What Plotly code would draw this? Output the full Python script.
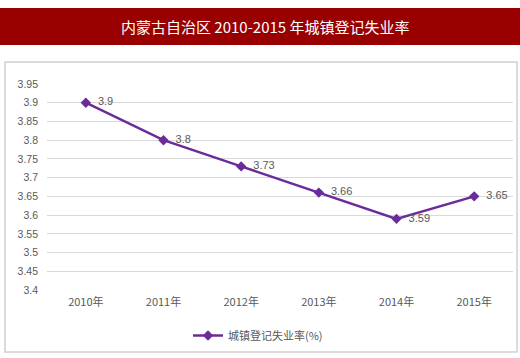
import plotly.graph_objects as go

years = ["2010年", "2011年", "2012年", "2013年", "2014年", "2015年"]
rates = [3.9, 3.8, 3.73, 3.66, 3.59, 3.65]
labels = ["3.9", "3.8", "3.73", "3.66", "3.59", "3.65"]
y_ticks = [3.4, 3.45, 3.5, 3.55, 3.6, 3.65, 3.7, 3.75, 3.8, 3.85, 3.9, 3.95]
y_tick_text = ["3.4", "3.45", "3.5", "3.55", "3.6", "3.65", "3.7", "3.75", "3.8", "3.85", "3.9", "3.95"]
series_name = "城镇登记失业率(%)"
title_text = "内蒙古自治区 2010-2015 年城镇登记失业率"

purple = "#6A2C9A"
gray_text = "#595959"

W, H = 520, 358
L, R, T, B = 47, 7, 84, 68
PW, PH = W - L - R, H - T - B


def px_x(x):
    return (x - L) / PW


def px_y(y):
    return (H - B - y) / PH


fig = go.Figure()
fig.add_trace(go.Scatter(
    x=years, y=rates, mode="lines+markers+text", name=series_name,
    text=["  " + s for s in labels], textposition="middle right",
    textfont=dict(family="Liberation Sans, sans-serif", size=11, color=gray_text),
    line=dict(color=purple, width=2.5),
    marker=dict(symbol="diamond", size=8, color=purple),
    cliponaxis=False,
))

fig.update_layout(
    width=W, height=H,
    margin=dict(l=L, r=R, t=T, b=B, autoexpand=False),
    paper_bgcolor="white", plot_bgcolor="white",
    font=dict(family="Noto Sans CJK SC, sans-serif", color=gray_text),
    showlegend=True,
    legend=dict(orientation="h", x=px_x(258), xanchor="center", y=px_y(321), yanchor="top",
                font=dict(size=11, color=gray_text, family="Noto Sans CJK SC, sans-serif"),
                bgcolor="rgba(0,0,0,0)"),
    xaxis=dict(type="category", range=[-0.5, 5.5], showline=False, showgrid=False, ticks="",
               automargin=False, ticklabelstandoff=4,
               tickfont=dict(size=11, color=gray_text, family="Noto Sans CJK SC, sans-serif")),
    yaxis=dict(range=[3.4, 3.95], tickvals=y_ticks, ticktext=y_tick_text, automargin=False,
               showgrid=True, gridcolor="#D9D9D9", gridwidth=1, zeroline=False,
               showline=False, ticks="", ticklabelstandoff=8,
               tickfont=dict(size=10.5, color=gray_text, family="Liberation Sans, sans-serif")),
    shapes=[
        dict(type="rect", xref="paper", yref="paper", x0=px_x(5), x1=px_x(517),
             y0=px_y(352), y1=px_y(62), line=dict(color="#D0D0D0", width=1.5),
             fillcolor="rgba(0,0,0,0)", layer="below"),
        dict(type="rect", xref="paper", yref="paper", x0=px_x(0), x1=px_x(520),
             y0=px_y(45), y1=px_y(8),
             line=dict(width=0), fillcolor="#990000", layer="below"),
    ],
    annotations=[
        dict(text=title_text, xref="paper", yref="paper", x=px_x(265),
             y=px_y(26.5), xanchor="center", yanchor="middle", showarrow=False,
             font=dict(size=15, color="white", family="Noto Sans CJK SC, sans-serif")),
    ],
)

fig.write_html(
    "out.html",
    config={"displayModeBar": False},
    post_script="document.body.style.margin='0';document.body.style.overflow='hidden';",
)
